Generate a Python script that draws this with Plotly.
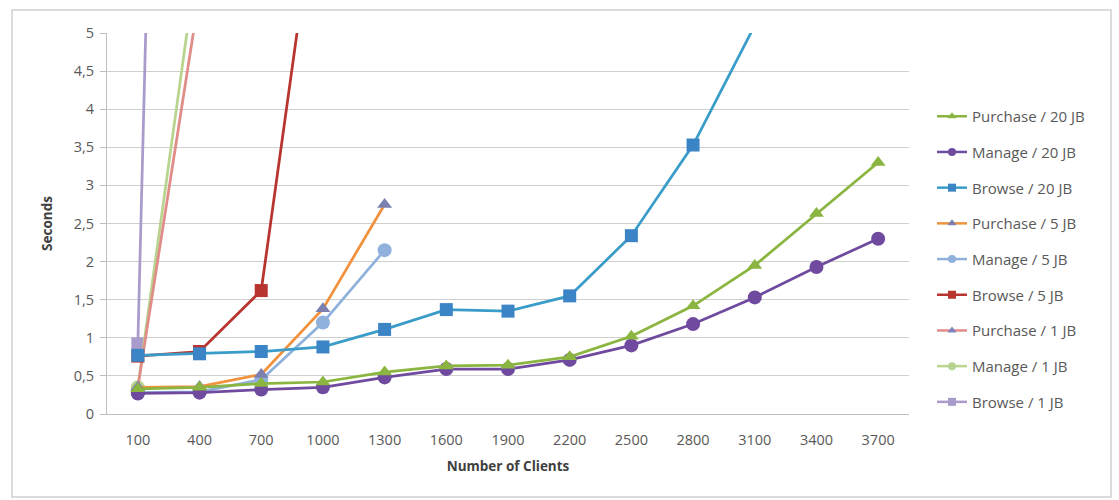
import plotly.graph_objects as go

clients = ["100", "400", "700", "1000", "1300", "1600", "1900", "2200", "2500", "2800", "3100", "3400", "3700"]

purchase_20 = [0.33, 0.35, 0.40, 0.42, 0.55, 0.63, 0.64, 0.75, 1.02, 1.42, 1.95, 2.63, 3.30]
manage_20 = [0.27, 0.28, 0.32, 0.35, 0.48, 0.59, 0.59, 0.71, 0.90, 1.18, 1.53, 1.93, 2.30]
browse_20 = [0.77, 0.79, 0.82, 0.88, 1.11, 1.37, 1.35, 1.55, 2.34, 3.53, 5.1]
purchase_5 = [0.35, 0.36, 0.52, 1.38, 2.75]
manage_5 = [0.28, 0.29, 0.45, 1.20, 2.15]
browse_5 = [0.76, 0.82, 1.62, 7.45]
purchase_1 = [0.35, 5.52]
manage_1 = [0.35, 6.2]
browse_1 = [0.92, 33.0]

y_ticks = [0, 0.5, 1, 1.5, 2, 2.5, 3, 3.5, 4, 4.5, 5]
y_tick_text = ["0", "0,5", "1", "1,5", "2", "2,5", "3", "3,5", "4", "4,5", "5"]

series = [
    ("Purchase / 20 JB", purchase_20, "#8AB540", "#8AB540", "triangle-up", 13),
    ("Manage / 20 JB", manage_20, "#6F4A9E", "#6F4A9E", "circle", 14),
    ("Browse / 20 JB", browse_20, "#3A9CC8", "#3B84C6", "square", 13),
    ("Purchase / 5 JB", purchase_5, "#F0913E", "#7C80AE", "triangle-up", 13),
    ("Manage / 5 JB", manage_5, "#8FB1DC", "#8FB1DC", "circle", 14),
    ("Browse / 5 JB", browse_5, "#B8342F", "#B8342F", "square", 13),
    ("Purchase / 1 JB", purchase_1, "#E08C88", "#8084BE", "triangle-up", 12),
    ("Manage / 1 JB", manage_1, "#B8D48E", "#B8D48E", "circle", 14),
    ("Browse / 1 JB", browse_1, "#A99BCB", "#A99BCB", "square", 13),
]

fig = go.Figure()
# data traces, drawn in reverse so the 20 JB series are on top
for i, (name, vals, lc, mc, sym, ms) in list(enumerate(series))[::-1]:
    fig.add_trace(go.Scatter(
        x=clients[:len(vals)], y=vals, name=name, mode="lines+markers",
        line=dict(color=lc, width=2.75),
        marker=dict(color=mc, symbol=sym, size=ms, line=dict(width=0)),
        showlegend=False,
    ))
# legend entries with smaller markers
for i, (name, vals, lc, mc, sym, ms) in enumerate(series):
    fig.add_trace(go.Scatter(
        x=[None], y=[None], name=name, mode="lines+markers",
        line=dict(color=lc, width=2.5),
        marker=dict(color=mc, symbol=sym, size=8, line=dict(width=0)),
        legendgroup=f"g{i}", showlegend=True,
    ))

W, H = 1119, 500
ml, mr, mt, mb = 107, 210, 33, 86
pw, ph = W - ml - mr, H - mt - mb

def px(x):
    return (x - ml) / pw

def py(y):
    return (H - mb - y) / ph

fig.add_shape(type="rect", xref="paper", yref="paper",
              x0=px(12), x1=px(1111), y0=py(10), y1=py(497),
              line=dict(color="#D0D0D0", width=1.5), fillcolor="rgba(0,0,0,0)", layer="below")

fig.update_layout(
    width=W, height=H,
    margin=dict(l=ml, r=mr, t=mt, b=mb),
    paper_bgcolor="white", plot_bgcolor="white",
    font=dict(family="Open Sans, sans-serif", size=14, color="#595959"),
    showlegend=True,
    legend=dict(x=px(932), y=py(100), xanchor="left", yanchor="top",
                font=dict(size=15, color="#595959"), tracegroupgap=13.2,
                traceorder="grouped", bgcolor="rgba(0,0,0,0)"),
    xaxis=dict(type="category", range=[-0.5, 12.5], showgrid=False, showline=True, linecolor="#BFBFBF",
               ticks="", tickfont=dict(size=14.5, color="#595959"), ticklabelstandoff=13,
               title=dict(text="<b>Number of Clients</b>", font=dict(size=13.5, color="#404040"), standoff=13)),
    yaxis=dict(range=[0, 5], tickvals=y_ticks, ticktext=y_tick_text,
               showgrid=True, gridcolor="#CFCFCF", gridwidth=1, zeroline=False,
               showline=True, linecolor="#BFBFBF", ticks="outside", ticklen=6, tickcolor="#BFBFBF",
               tickfont=dict(size=14.5, color="#595959"), ticklabelstandoff=3,
               title=dict(text="<b>Seconds</b>", font=dict(size=13.5, color="#404040"), standoff=18)),
)

fig.write_html("out.html")
